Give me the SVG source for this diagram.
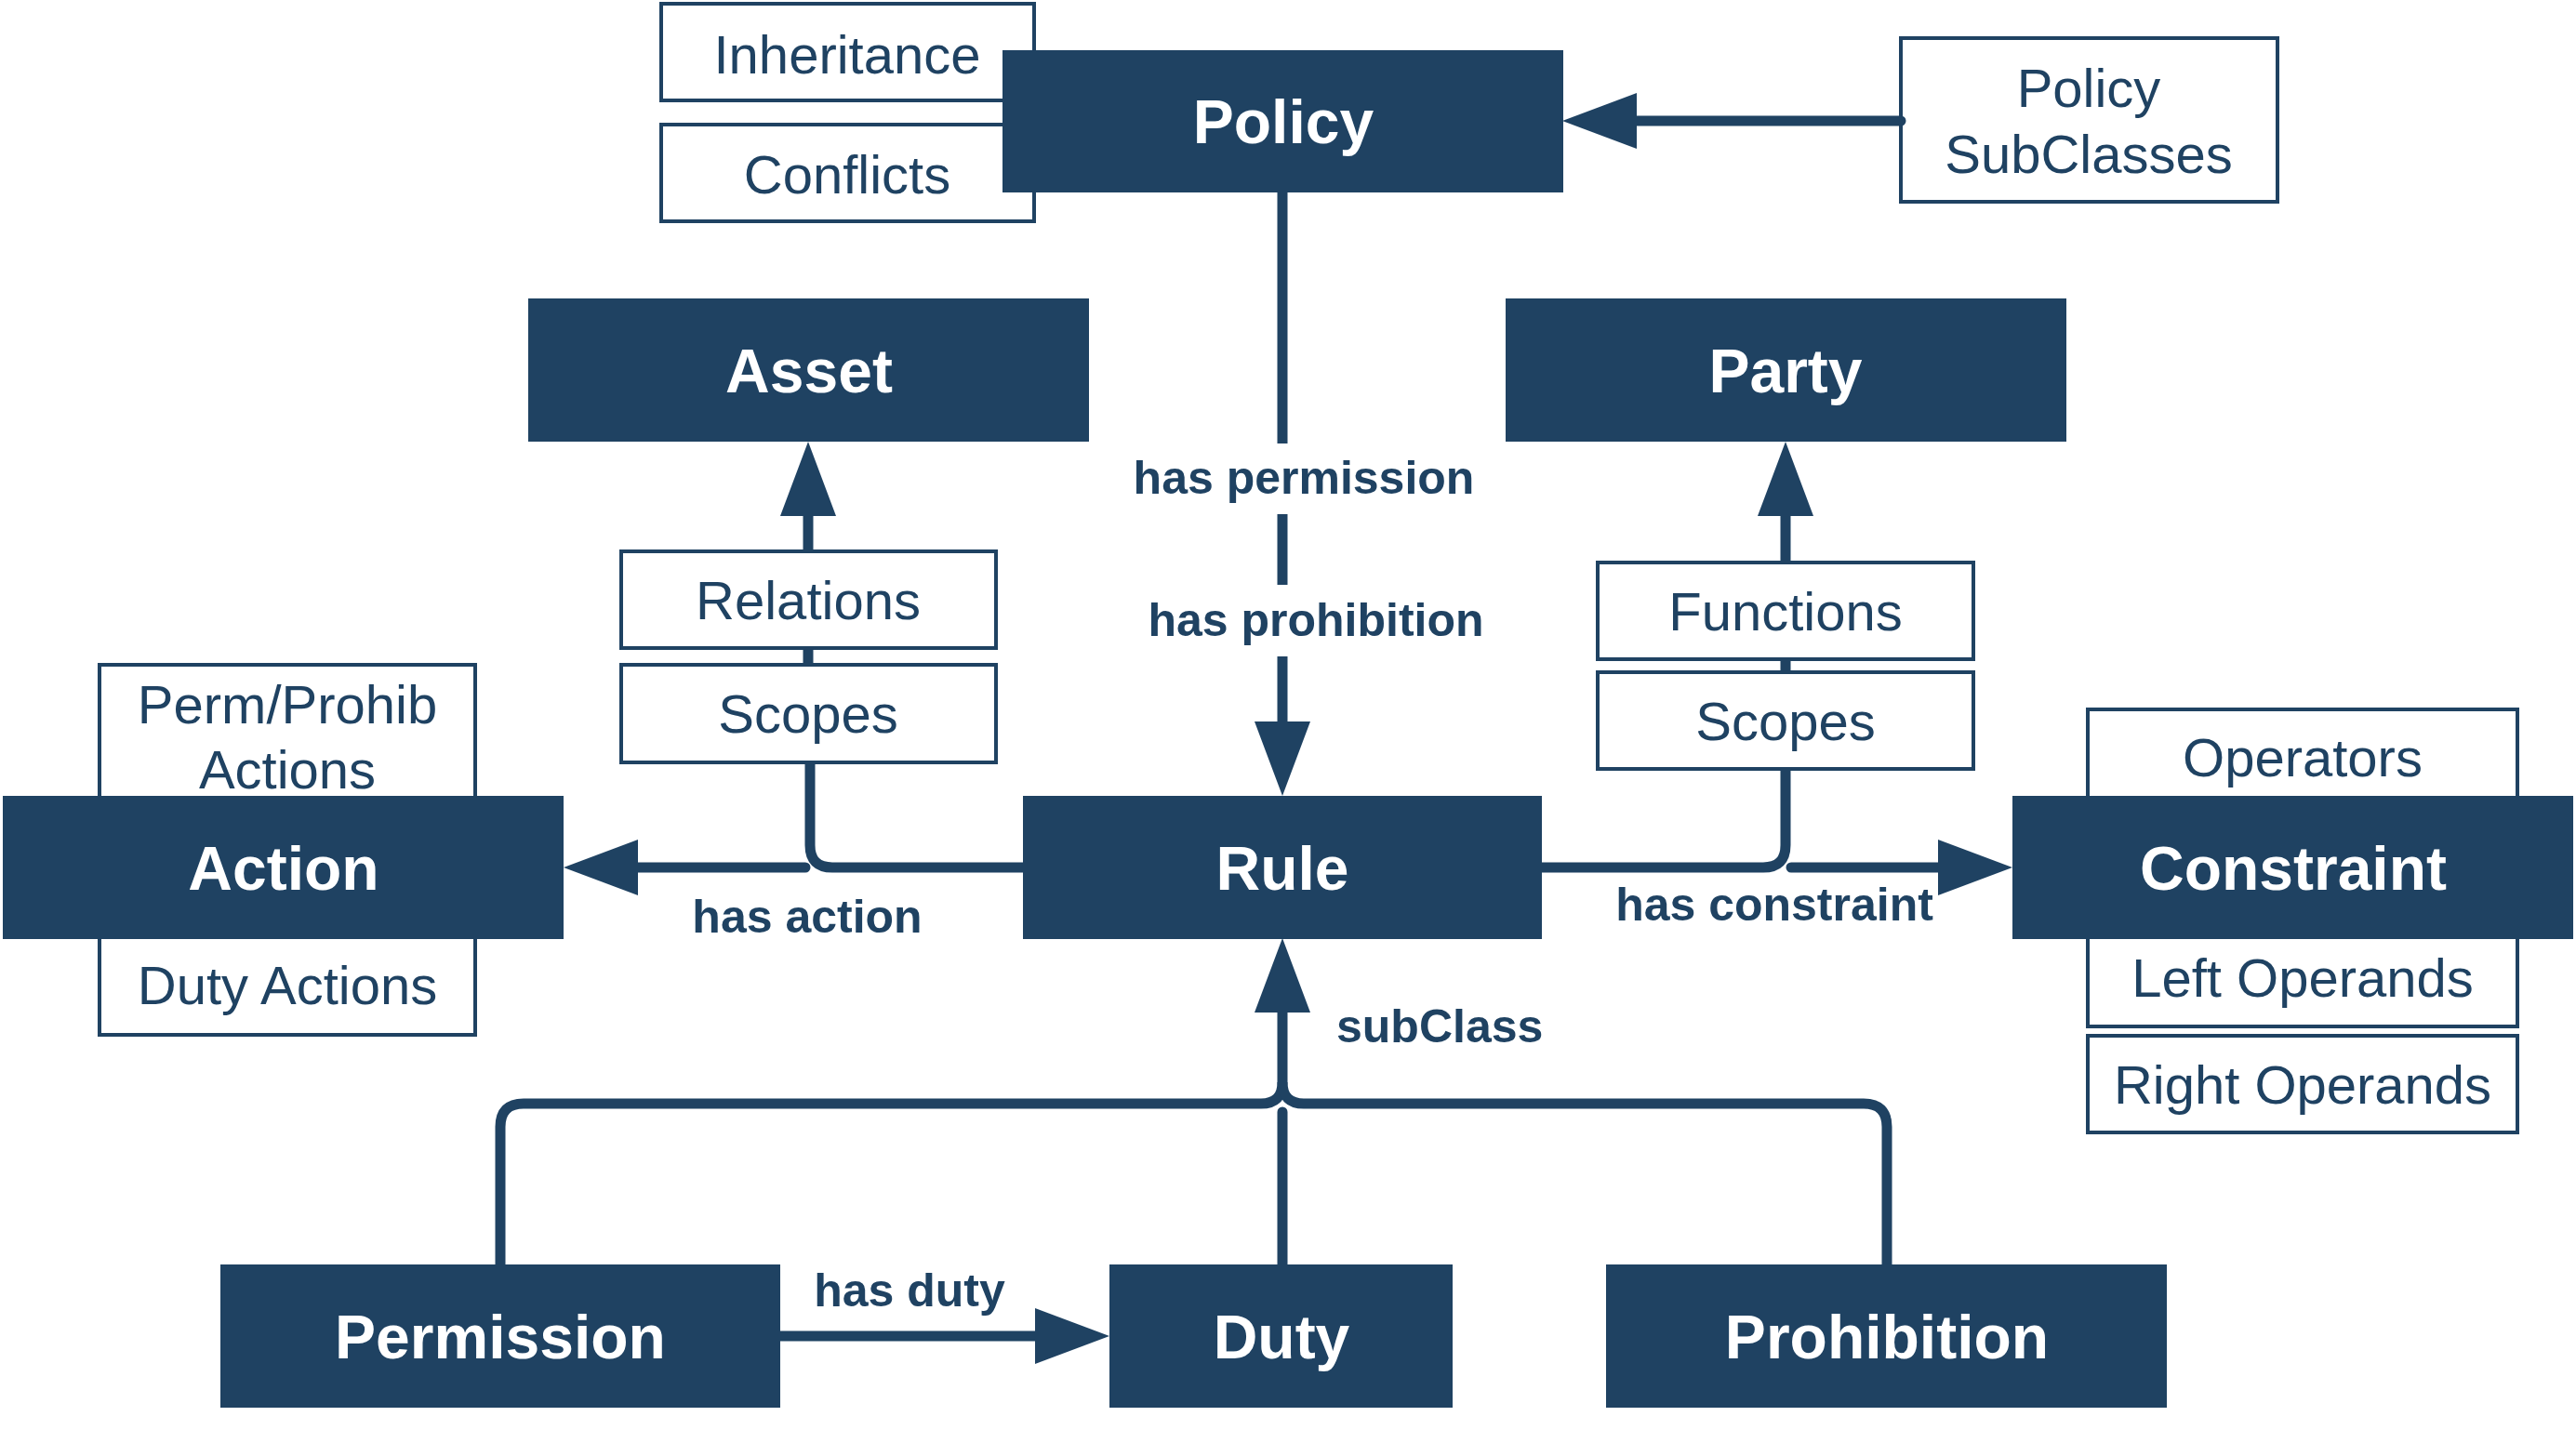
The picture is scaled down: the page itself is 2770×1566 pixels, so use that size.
<svg xmlns="http://www.w3.org/2000/svg" width="2770" height="1566" viewBox="0 0 2770 1566">
<defs>
<style>
.node{fill:#1f4262;stroke:none}
.box{fill:#ffffff;stroke:#1f4262;stroke-width:4}
.nl{font-family:"Liberation Sans",Arial,sans-serif;font-weight:bold;font-size:66px;fill:#ffffff;text-anchor:middle}
.bl{font-family:"Liberation Sans",Arial,sans-serif;font-size:58px;fill:#1f4262;text-anchor:middle}
.el{font-family:"Liberation Sans",Arial,sans-serif;font-weight:bold;font-size:50px;fill:#1f4262}
.ln{fill:none;stroke:#1f4262;stroke-width:11}
.rc{stroke-linecap:round}
</style>
<marker id="arr" markerUnits="userSpaceOnUse" viewBox="0 0 80 60" refX="0" refY="30" markerWidth="80" markerHeight="60" orient="auto">
<path d="M0,0 L80,30 L0,60 Z" fill="#1f4262"/>
</marker>
</defs>
<rect width="2770" height="1566" fill="#ffffff"/>

<g id="inheritance"><rect class="box" x="711" y="4" width="401" height="104"/><text class="bl" x="911" y="79">Inheritance</text></g>
<g id="conflicts"><rect class="box" x="711" y="134" width="401" height="104"/><text class="bl" x="911" y="208">Conflicts</text></g>
<g id="perm-prohib-actions"><rect class="box" x="107" y="715" width="404" height="160"/><text class="bl" x="309" y="778">Perm/Prohib</text><text class="bl" x="309" y="848">Actions</text></g>
<g id="duty-actions"><rect class="box" x="107" y="990" width="404" height="123"/><text class="bl" x="309" y="1080">Duty Actions</text></g>
<g id="operators"><rect class="box" x="2245" y="763" width="462" height="110"/><text class="bl" x="2476" y="835">Operators</text></g>
<g id="left-operands"><rect class="box" x="2245" y="995" width="462" height="109"/><text class="bl" x="2476" y="1072">Left Operands</text></g>
<g id="right-operands"><rect class="box" x="2245" y="1114" width="462" height="104"/><text class="bl" x="2476" y="1187">Right Operands</text></g>
<g id="policy-subclasses"><rect class="box" x="2044" y="41" width="405" height="176"/><text class="bl" x="2246" y="115">Policy</text><text class="bl" x="2246" y="186">SubClasses</text></g>
<g id="relations"><rect class="box" x="668" y="593" width="403" height="104"/><text class="bl" x="869" y="666">Relations</text></g>
<g id="scopes-left"><rect class="box" x="668" y="715" width="403" height="105"/><text class="bl" x="869" y="788">Scopes</text></g>
<g id="functions"><rect class="box" x="1718" y="605" width="404" height="104"/><text class="bl" x="1920" y="678">Functions</text></g>
<g id="scopes-right"><rect class="box" x="1718" y="723" width="404" height="104"/><text class="bl" x="1920" y="796">Scopes</text></g>

<g id="connectors">
<path class="ln" d="M1379,207 V477"/>
<path class="ln" d="M1379,553 V629"/>
<path class="ln" d="M1379,706 V776" marker-end="url(#arr)"/>
<path class="ln rc" d="M2044,130 H1760" marker-end="url(#arr)"/>
<path class="ln" d="M869,593 V555" marker-end="url(#arr)"/>
<path class="ln" d="M869,697 V715"/>
<path class="ln" d="M1920,605 V555" marker-end="url(#arr)"/>
<path class="ln" d="M1920,709 V723"/>
<path class="ln" d="M1100,933 H895 Q871,933 871,909 V820"/>
<path class="ln rc" d="M866,933 H686" marker-end="url(#arr)"/>
<path class="ln" d="M1658,933 H1896 Q1920,933 1920,909 V827"/>
<path class="ln rc" d="M1926,933 H2084" marker-end="url(#arr)"/>
<path class="ln" d="M839,1437 H1113" marker-end="url(#arr)"/>
<path class="ln" d="M538,1360 V1212 Q538,1187 563,1187 H1356 Q1379,1187 1379,1164 V1089" marker-end="url(#arr)"/>
<path class="ln" d="M2029,1360 V1212 Q2029,1187 2004,1187 H1402 Q1379,1187 1379,1164"/>
<path class="ln rc" d="M1379,1360 V1196"/>
<text class="el" x="1402" y="531" text-anchor="middle">has permission</text>
<text class="el" x="1415" y="684" text-anchor="middle">has prohibition</text>
<text class="el" x="868" y="1003" text-anchor="middle">has action</text>
<text class="el" x="1908" y="990" text-anchor="middle">has constraint</text>
<text class="el" x="1437" y="1121">subClass</text>
<text class="el" x="978" y="1405" text-anchor="middle">has duty</text>
</g>

<g id="policy"><rect class="node" x="1078" y="54" width="603" height="153"/><text class="nl" x="1380" y="154">Policy</text></g>
<g id="asset"><rect class="node" x="568" y="321" width="603" height="154"/><text class="nl" x="870" y="422">Asset</text></g>
<g id="party"><rect class="node" x="1619" y="321" width="603" height="154"/><text class="nl" x="1920" y="422">Party</text></g>
<g id="action"><rect class="node" x="3" y="856" width="603" height="154"/><text class="nl" x="305" y="957">Action</text></g>
<g id="rule"><rect class="node" x="1100" y="856" width="558" height="154"/><text class="nl" x="1379" y="957">Rule</text></g>
<g id="constraint"><rect class="node" x="2164" y="856" width="603" height="154"/><text class="nl" x="2466" y="957">Constraint</text></g>
<g id="permission"><rect class="node" x="237" y="1360" width="602" height="154"/><text class="nl" x="538" y="1461">Permission</text></g>
<g id="duty"><rect class="node" x="1193" y="1360" width="369" height="154"/><text class="nl" x="1378" y="1461">Duty</text></g>
<g id="prohibition"><rect class="node" x="1727" y="1360" width="603" height="154"/><text class="nl" x="2029" y="1461">Prohibition</text></g>
</svg>
